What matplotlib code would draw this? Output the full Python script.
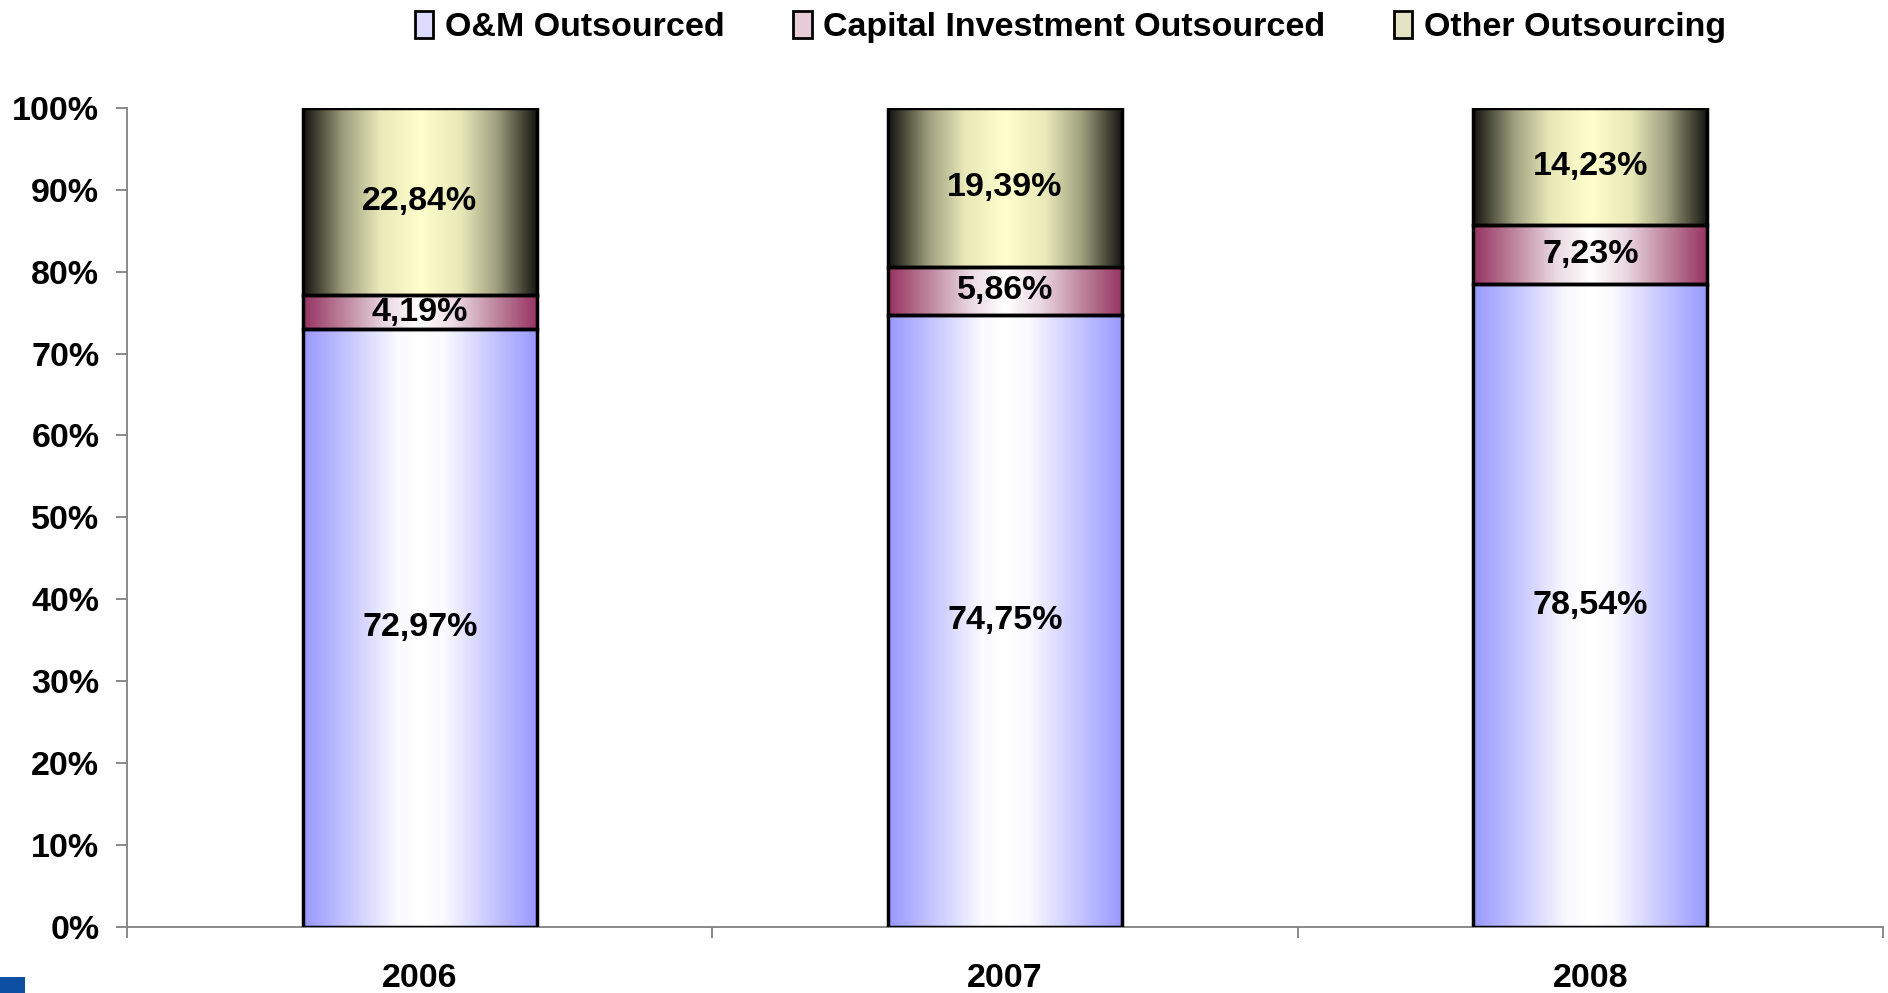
import numpy as np
import matplotlib
matplotlib.use('Agg')
import matplotlib.pyplot as plt
from matplotlib.colors import LinearSegmentedColormap
from matplotlib.patches import Rectangle

years = ['2006', '2007', '2008']
om_outsourced = [72.97, 74.75, 78.54]
capital_outsourced = [4.19, 5.86, 7.23]
other_outsourcing = [22.84, 19.39, 14.23]
series_names = ['O&M Outsourced', 'Capital Investment Outsourced', 'Other Outsourcing']
y_ticks = [0, 10, 20, 30, 40, 50, 60, 70, 80, 90, 100]

plt.rcParams['font.family'] = ['Liberation Sans', 'DejaVu Sans']
plt.rcParams['font.weight'] = 'bold'

# colour stops from centre (0) to edge (1) of each bar
grad_stops = [
    [(0.0, '#ffffff'), (0.2, '#fafaff'), (0.6, '#c8c8ff'), (1.0, '#9898ff')],
    [(0.0, '#ffffff'), (0.3, '#ead8e0'), (0.7, '#b87a94'), (1.0, '#973262')],
    [(0.0, '#ffffcc'), (0.35, '#e8e8b8'), (0.65, '#a0a080'), (0.85, '#50503f'), (1.0, '#141410')],
]
legend_fill = ['#dcdcff', '#e8ccd8', '#e4e4c4']


def gradient_img(stops):
    cmap = LinearSegmentedColormap.from_list('g', stops)
    t = np.abs(np.linspace(-1, 1, 256))
    return cmap(t)[np.newaxis, :, :]


fig = plt.figure(figsize=(18.88, 9.93), dpi=100)
ax = fig.add_axes([0.0673, 0.0668, 0.93, 0.8244])

x = np.arange(len(years))
width = 0.40
bottom = np.zeros(len(years))
all_series = [om_outsourced, capital_outsourced, other_outsourcing]
for k, vals in enumerate(all_series):
    bars = ax.bar(x, vals, width, bottom=bottom, facecolor='none',
                  edgecolor='black', linewidth=2.5, zorder=3)
    img = gradient_img(grad_stops[k])
    for b, v, b0 in zip(bars, vals, bottom):
        im = ax.imshow(img, extent=[b.get_x(), b.get_x() + b.get_width(), b0, b0 + v],
                       aspect='auto', zorder=2, interpolation='bicubic')
        im.set_clip_path(b)
        label = ('%.2f' % v).replace('.', ',') + '%'
        ax.text(b.get_x() + b.get_width() / 2, b0 + v / 2, label,
                ha='center', va='center', fontsize=24.5, fontweight='bold', zorder=4)
    bottom = bottom + np.array(vals)

ax.set_xlim(-0.5, len(years) - 0.5)
ax.set_ylim(0, 100)
ax.set_yticks(y_ticks)
ax.set_yticklabels(['%d%%' % t for t in y_ticks])
ax.set_xticks(x)
ax.set_xticklabels(years)
ax.set_xticks(np.arange(len(years) + 1) - 0.5, minor=True)

ax.tick_params(axis='y', direction='out', length=8, width=1.3, color='#808080',
               pad=12, labelsize=24.5)
ax.tick_params(axis='x', which='major', length=0, pad=26, labelsize=24.5)
ax.tick_params(axis='x', which='minor', direction='out', length=8, width=1.3, color='#808080')
for t in ax.get_xticklabels() + ax.get_yticklabels():
    t.set_fontweight('bold')

for s in ['top', 'right']:
    ax.spines[s].set_visible(False)
for s in ['left', 'bottom']:
    ax.spines[s].set_color('#808080')
    ax.spines[s].set_linewidth(1.3)

handles = [Rectangle((0, 0), 1, 1, facecolor=c, edgecolor='black', linewidth=2)
           for c in legend_fill]
fig.legend(handles, series_names, loc='upper center', bbox_to_anchor=(0.567, 1.02),
           ncol=3, frameon=False, handlelength=0.55, handleheight=0.85,
           handletextpad=0.35, columnspacing=2.0, prop={'weight': 'bold', 'size': 24.5})

fig.patches.append(Rectangle((0, 0), 25 / 1888, 16 / 993, transform=fig.transFigure,
                             facecolor='#0d4fa2', edgecolor='none'))

fig.savefig('out.png', dpi=100)
